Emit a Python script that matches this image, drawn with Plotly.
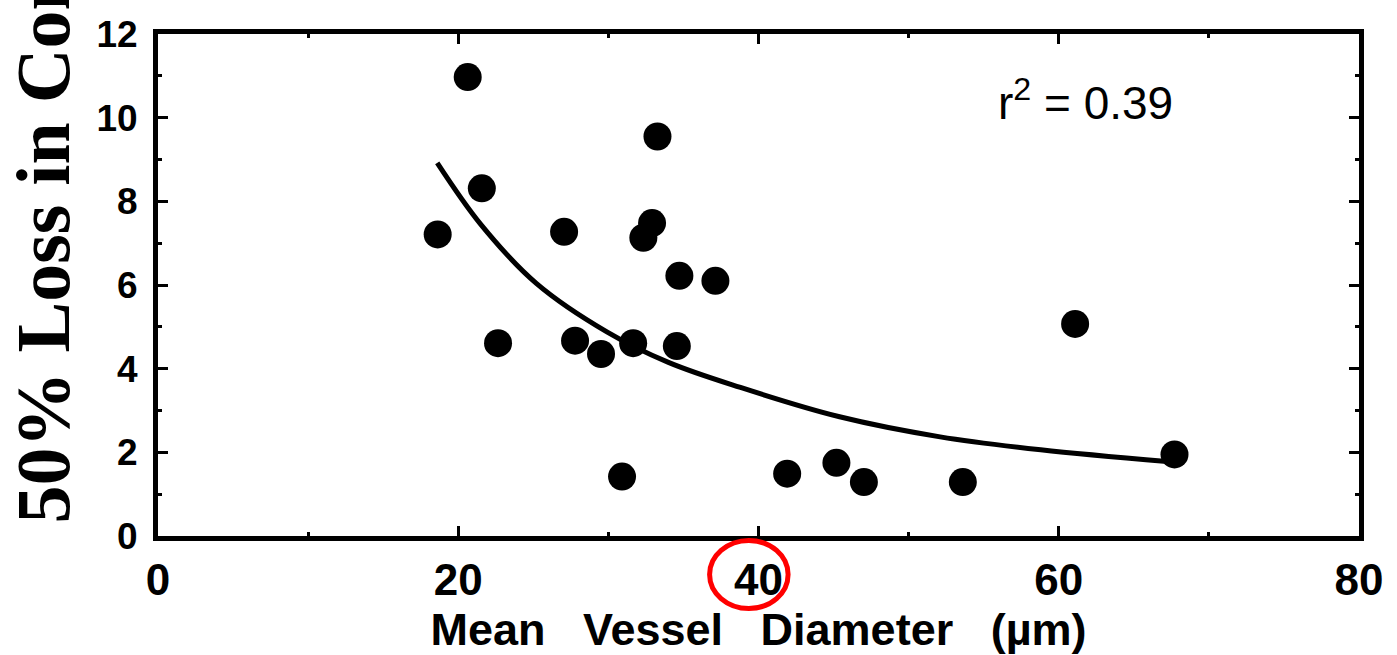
import plotly.graph_objects as go

# Scatter data (mean vessel diameter in µm, 50% loss value)
diameter = [20.63, 33.27, 21.57, 18.63, 27.05, 32.91, 32.33, 34.73, 37.13, 22.65, 27.78,
            29.51, 31.65, 34.56, 30.91, 41.91, 45.19, 47.02, 53.61, 61.09, 67.71]
loss = [10.97, 9.55, 8.31, 7.21, 7.27, 7.48, 7.13, 6.22, 6.10, 4.61, 4.67,
        4.35, 4.61, 4.54, 1.42, 1.49, 1.75, 1.29, 1.29, 5.07, 1.95]

# Fitted curve
fit_x = [18.6, 21.5, 25.2, 29.9, 34.0, 38.8, 45.4, 52.1, 58.8, 67.2]
fit_y = [8.92, 7.45, 6.04, 4.88, 4.15, 3.55, 2.85, 2.37, 2.06, 1.78]

x_ticks = [0, 20, 40, 60, 80]
y_ticks = [0, 2, 4, 6, 8, 10, 12]

fig = go.Figure()
fig.add_trace(go.Scatter(x=fit_x, y=fit_y, mode="lines", line=dict(color="black", width=5, shape="spline"),
                         showlegend=False, hoverinfo="skip"))
fig.add_trace(go.Scatter(x=diameter, y=loss, mode="markers",
                         marker=dict(color="black", size=28, line=dict(width=0)), showlegend=False))

W, H = 1397, 655
L, R, T, B = 158, 38, 34, 119
pw, ph = W - L - R, H - T - B

sp = "&nbsp;&nbsp; "
fig.update_layout(
    width=W, height=H, margin=dict(l=L, r=R, t=T, b=B, autoexpand=False),
    plot_bgcolor="white", paper_bgcolor="white",
    xaxis=dict(range=[0, 80], tickvals=x_ticks, ticks="inside", ticklen=10, tickwidth=3, tickcolor="black",
               showline=True, linewidth=5, linecolor="black", mirror="ticks", showgrid=False, zeroline=False,
               automargin=False,
               minor=dict(dtick=10, ticks="inside", ticklen=4, tickwidth=3, tickcolor="black", showgrid=False),
               tickfont=dict(family="Liberation Sans", size=44, color="black", weight="bold"),
               ticklabelstandoff=1,
               title=dict(text="Mean" + sp + "Vessel" + sp + "Diameter" + sp + "(µm)", standoff=4,
                          font=dict(family="Liberation Sans", size=45, color="black", weight="bold"))),
    yaxis=dict(range=[0, 12], tickvals=y_ticks, ticks="inside", ticklen=10, tickwidth=3, tickcolor="black",
               showline=True, linewidth=5, linecolor="black", mirror="ticks", showgrid=False, zeroline=False,
               automargin=False,
               minor=dict(dtick=1, ticks="inside", ticklen=4, tickwidth=3, tickcolor="black", showgrid=False),
               tickfont=dict(family="Liberation Sans", size=37, color="black", weight="bold"),
               ticklabelstandoff=8),
)

# rotated y title, clipped at the top like in the reference
fig.add_annotation(text="50% Loss in Con", xref="paper", yref="paper",
                   x=(42 - L) / pw, y=(536 - 526) / ph, xanchor="center", yanchor="bottom",
                   textangle=-90, showarrow=False,
                   font=dict(family="Liberation Serif", size=76, color="black", weight="bold"))

fig.add_annotation(text="r<sup>2</sup> = 0.39", xref="paper", yref="paper",
                   x=(1085 - L) / pw, y=(536 - 100) / ph, xanchor="center", yanchor="middle",
                   showarrow=False, font=dict(family="Liberation Sans", size=46, color="black"))

# red circle around the 40 tick label
fig.add_shape(type="circle", xref="x", yref="paper",
              x0=(709.5 - L) / 15.01, x1=(788 - L) / 15.01,
              y0=(536 - 608.5) / ph, y1=(536 - 540.5) / ph,
              line=dict(color="#ff0000", width=5))

fig.write_html("out.html")
